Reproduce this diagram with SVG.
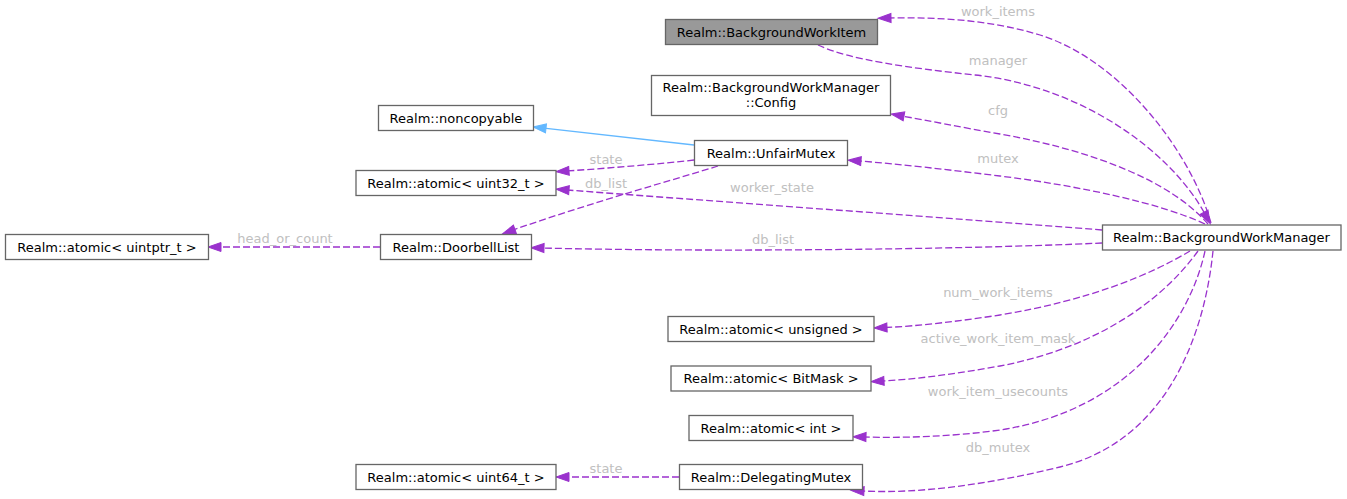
<svg xmlns="http://www.w3.org/2000/svg" width="1347" height="499" viewBox="0 0 1347 499">
<style>
.node rect{fill:#ffffff;stroke:#666666;stroke-width:1.3}
.node.hl rect{fill:#999999}
.node text{font-family:"DejaVu Sans",sans-serif;font-size:13px;fill:#000000;text-anchor:middle}
.e{fill:none;stroke:#9a32cd;stroke-width:1.3;stroke-dasharray:7,3}
.inh{fill:none;stroke:#63b8ff;stroke-width:1.3}
.lbl{font-family:"DejaVu Sans",sans-serif;font-size:13px;fill:#c0c0c0;text-anchor:middle}
</style>
<defs>
<marker id="ap" markerUnits="userSpaceOnUse" markerWidth="14" markerHeight="10" refX="2" refY="4.5" orient="auto" overflow="visible">
<path d="M0,0 L13,4.5 L0,9 z" fill="#9a32cd" stroke="#9a32cd" stroke-width="1"/>
</marker>
<marker id="ab" markerUnits="userSpaceOnUse" markerWidth="14" markerHeight="10" refX="2" refY="4.5" orient="auto" overflow="visible">
<path d="M0,0 L13,4.5 L0,9 z" fill="#63b8ff" stroke="#63b8ff" stroke-width="1"/>
</marker>
</defs>
<rect width="1347" height="499" fill="#ffffff"/>
<g id="connectors">
<path class="e" marker-end="url(#ap)" d="M1211,223 C1190,150 1120,60 1040,35 C990,20 940,17 889,18"/>
<path class="e" marker-end="url(#ap)" d="M818,45 C850,60 910,68 975,75 C1080,86 1170,150 1205,214"/>
<path class="e" marker-end="url(#ap)" d="M1208,224 C1170,180 1090,150 1000,134 C960,127 930,121 902,116"/>
<path class="e" marker-end="url(#ap)" d="M1205,224 C1160,203 1080,186 1000,176 C950,170 900,164 859,161"/>
<path class="e" marker-end="url(#ap)" d="M1102,230 C950,218 750,204 567,190"/>
<path class="e" marker-end="url(#ap)" d="M1102,243 C950,250 700,252 542,248"/>
<path class="e" marker-end="url(#ap)" d="M694,160 C660,164 610,168 567,171"/>
<path class="e" marker-end="url(#ap)" d="M718,166 C680,178 590,203 513,230"/>
<path class="inh" marker-end="url(#ab)" d="M694,145 L544,128.2"/>
<path class="e" marker-end="url(#ap)" d="M380,247 L219,247"/>
<path class="e" marker-end="url(#ap)" d="M1190,251 C1150,275 1090,300 1000,315 C960,321 920,326 885,327.5"/>
<path class="e" marker-end="url(#ap)" d="M1198,251 C1170,290 1110,345 1000,366 C960,373 920,379 882,381"/>
<path class="e" marker-end="url(#ap)" d="M1205,251 C1190,320 1130,410 1000,430 C950,437 900,438 864,437"/>
<path class="e" marker-end="url(#ap)" d="M1213,251 C1205,330 1170,440 1060,467 C990,484 920,494 862,491"/>
<path class="e" marker-end="url(#ap)" d="M679,477 L567,477"/>
<text class="lbl" x="998" y="16">work_items</text>
<text class="lbl" x="998" y="65">manager</text>
<text class="lbl" x="998" y="115">cfg</text>
<text class="lbl" x="998" y="163">mutex</text>
<text class="lbl" x="772" y="192">worker_state</text>
<text class="lbl" x="606" y="188">db_list</text>
<text class="lbl" x="606" y="164">state</text>
<text class="lbl" x="773" y="244">db_list</text>
<text class="lbl" x="285" y="243">head_or_count</text>
<text class="lbl" x="998" y="297">num_work_items</text>
<text class="lbl" x="998" y="343">active_work_item_mask</text>
<text class="lbl" x="998" y="396">work_item_usecounts</text>
<text class="lbl" x="998" y="452">db_mutex</text>
<text class="lbl" x="606" y="473">state</text>
</g>
<g id="n_bwi" class="node hl"><rect x="665.5" y="19.5" width="212" height="25"/><text x="771.5" y="36.5">Realm::BackgroundWorkItem</text></g>
<g id="n_cfg" class="node"><rect x="651.5" y="75.5" width="239" height="40"/><text x="771" y="92">Realm::BackgroundWorkManager</text><text x="771" y="107">::Config</text></g>
<g id="n_noncopyable" class="node"><rect x="378.5" y="105.5" width="155" height="25"/><text x="456" y="122.5">Realm::noncopyable</text></g>
<g id="n_unfair" class="node"><rect x="694.5" y="140.5" width="153" height="25"/><text x="771" y="157.5">Realm::UnfairMutex</text></g>
<g id="n_u32" class="node"><rect x="356" y="170.5" width="200" height="25"/><text x="456" y="187.5">Realm::atomic&lt; uint32_t &gt;</text></g>
<g id="n_uintptr" class="node"><rect x="5.5" y="234.5" width="203" height="25"/><text x="107" y="251.5">Realm::atomic&lt; uintptr_t &gt;</text></g>
<g id="n_doorbell" class="node"><rect x="380.5" y="234.5" width="151" height="25"/><text x="456" y="251.5">Realm::DoorbellList</text></g>
<g id="n_bwm" class="node"><rect x="1102.5" y="225" width="238.5" height="25"/><text x="1221.5" y="242">Realm::BackgroundWorkManager</text></g>
<g id="n_unsigned" class="node"><rect x="668" y="316.5" width="206" height="25"/><text x="771" y="333.5">Realm::atomic&lt; unsigned &gt;</text></g>
<g id="n_bitmask" class="node"><rect x="671" y="366" width="200" height="25"/><text x="771" y="383">Realm::atomic&lt; BitMask &gt;</text></g>
<g id="n_int" class="node"><rect x="689" y="415.5" width="164" height="25"/><text x="771" y="432.5">Realm::atomic&lt; int &gt;</text></g>
<g id="n_delegating" class="node"><rect x="679.5" y="464.5" width="183" height="25"/><text x="771" y="481.5">Realm::DelegatingMutex</text></g>
<g id="n_u64" class="node"><rect x="356" y="464.5" width="200" height="25"/><text x="456" y="481.5">Realm::atomic&lt; uint64_t &gt;</text></g>
</svg>
